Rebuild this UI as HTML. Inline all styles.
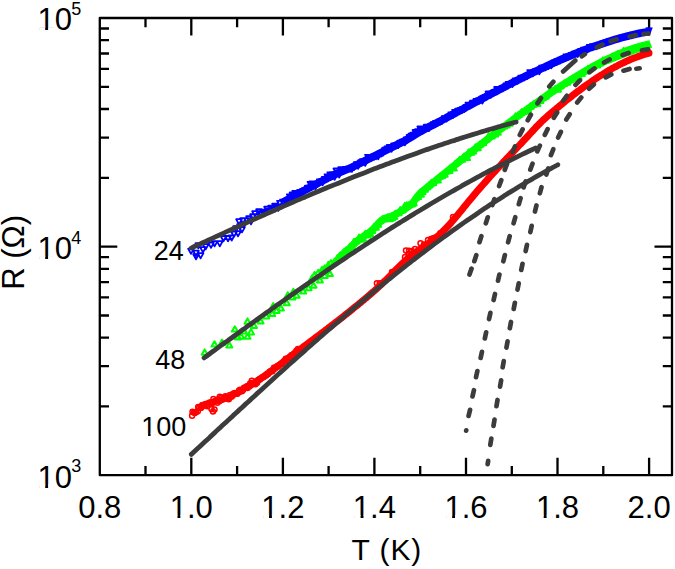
<!DOCTYPE html><html><head><meta charset="utf-8"><style>html,body{margin:0;padding:0;background:#fff;}svg{display:block;}text{font-family:"Liberation Sans",sans-serif;fill:#000;}</style></head><body>
<svg width="675" height="569" viewBox="0 0 675 569">
<rect x="99.8" y="18.0" width="572.2" height="457.2" fill="none" stroke="#000" stroke-width="2.3" stroke-linejoin="round"/>
<path d="M145.5,475.2v-9.2M145.5,18.0v9.2M191.3,475.2v-17.5M191.3,18.0v17.5M237.1,475.2v-9.2M237.1,18.0v9.2M282.9,475.2v-17.5M282.9,18.0v17.5M328.6,475.2v-9.2M328.6,18.0v9.2M374.4,475.2v-17.5M374.4,18.0v17.5M420.2,475.2v-9.2M420.2,18.0v9.2M466.0,475.2v-17.5M466.0,18.0v17.5M511.8,475.2v-9.2M511.8,18.0v9.2M557.5,475.2v-17.5M557.5,18.0v17.5M603.3,475.2v-9.2M603.3,18.0v9.2M649.1,475.2v-17.5M649.1,18.0v17.5M99.8,406.4h9.2M672.0,406.4h-9.2M99.8,366.2h9.2M672.0,366.2h-9.2M99.8,337.6h9.2M672.0,337.6h-9.2M99.8,315.5h9.2M672.0,315.5h-9.2M99.8,297.4h9.2M672.0,297.4h-9.2M99.8,282.1h9.2M672.0,282.1h-9.2M99.8,268.8h9.2M672.0,268.8h-9.2M99.8,257.1h9.2M672.0,257.1h-9.2M99.8,246.7h17.5M672.0,246.7h-17.5M99.8,177.8h9.2M672.0,177.8h-9.2M99.8,137.6h9.2M672.0,137.6h-9.2M99.8,109.0h9.2M672.0,109.0h-9.2M99.8,86.9h9.2M672.0,86.9h-9.2M99.8,68.8h9.2M672.0,68.8h-9.2M99.8,53.5h9.2M672.0,53.5h-9.2M99.8,40.2h9.2M672.0,40.2h-9.2M99.8,28.5h9.2M672.0,28.5h-9.2" fill="none" stroke="#000" stroke-width="2.3"/>
<path d="M285.0,201.2 C285.5,200.9 287.0,200.0 288.0,199.5 C289.0,198.9 290.0,198.3 291.0,197.8 C292.0,197.2 293.0,196.7 294.0,196.1 C295.0,195.5 296.0,195.0 297.0,194.4 C298.0,193.9 299.0,193.3 300.0,192.8 C301.0,192.2 302.0,191.7 303.0,191.2 C304.0,190.6 305.0,190.1 306.0,189.5 C307.0,189.0 308.0,188.5 309.0,187.9 C310.0,187.4 311.0,186.9 312.0,186.3 C313.0,185.8 314.0,185.3 315.0,184.7 C316.0,184.2 317.0,183.7 318.0,183.2 C319.0,182.6 320.0,182.1 321.0,181.6 C322.0,181.1 323.0,180.5 324.0,180.0 C325.0,179.5 326.0,179.0 327.0,178.5 C328.0,178.0 329.0,177.4 330.0,176.9 C331.0,176.4 332.0,175.9 333.0,175.4 C334.0,174.9 335.0,174.4 336.0,173.9 C337.0,173.5 338.0,173.1 339.0,172.7 C340.0,172.3 341.0,171.9 342.0,171.5 C343.0,171.0 344.0,170.6 345.0,170.2 C346.0,169.8 347.0,169.4 348.0,169.0 C349.0,168.6 350.0,168.2 351.0,167.7 C352.0,167.2 353.0,166.7 354.0,166.2 C355.0,165.7 356.0,165.2 357.0,164.7 C358.0,164.2 359.0,163.7 360.0,163.2 C361.0,162.7 362.0,162.2 363.0,161.7 C364.0,161.2 365.0,160.7 366.0,160.2 C367.0,159.7 368.0,159.2 369.0,158.7 C370.0,158.2 371.0,157.7 372.0,157.2 C373.0,156.7 374.0,156.2 375.0,155.7 C376.0,155.2 377.0,154.7 378.0,154.2 C379.0,153.8 380.0,153.3 381.0,152.8 C382.0,152.3 383.0,151.8 384.0,151.3 C385.0,150.8 386.0,150.3 387.0,149.8 C388.0,149.3 389.0,148.8 390.0,148.3 C391.0,147.8 392.0,147.3 393.0,146.8 C394.0,146.3 395.0,145.8 396.0,145.3 C397.0,144.8 398.0,144.3 399.0,143.8 C400.0,143.3 401.0,142.8 402.0,142.3 C403.0,141.8 404.0,141.3 405.0,140.8 C406.0,140.2 407.0,139.6 408.0,139.0 C409.0,138.4 410.0,137.8 411.0,137.2 C412.0,136.5 413.0,135.9 414.0,135.3 C415.0,134.7 416.0,134.1 417.0,133.5 C418.0,132.9 419.0,132.3 420.0,131.7 C421.0,131.1 422.0,130.7 423.0,130.1 C424.0,129.6 425.0,129.1 426.0,128.6 C427.0,128.1 428.0,127.5 429.0,127.0 C430.0,126.5 431.0,126.0 432.0,125.4 C433.0,124.9 434.0,124.4 435.0,123.9 C436.0,123.3 437.0,122.8 438.0,122.3 C439.0,121.7 440.0,121.2 441.0,120.7 C442.0,120.2 443.0,119.6 444.0,119.1 C445.0,118.6 446.0,118.0 447.0,117.5 C448.0,117.0 449.0,116.4 450.0,115.9 C451.0,115.4 452.0,114.8 453.0,114.3 C454.0,113.8 455.0,113.2 456.0,112.7 C457.0,112.2 458.0,111.6 459.0,111.1 C460.0,110.5 461.0,110.0 462.0,109.5 C463.0,108.9 464.0,108.4 465.0,107.9 C466.0,107.3 467.0,106.8 468.0,106.3 C469.0,105.7 470.0,105.2 471.0,104.7 C472.0,104.1 473.0,103.6 474.0,103.0 C475.0,102.5 476.0,102.0 477.0,101.4 C478.0,100.9 479.0,100.4 480.0,99.8 C481.0,99.3 482.0,98.8 483.0,98.2 C484.0,97.7 485.0,97.2 486.0,96.7 C487.0,96.1 488.0,95.6 489.0,95.1 C490.0,94.5 491.0,94.0 492.0,93.5 C493.0,93.0 494.0,92.4 495.0,91.9 C496.0,91.4 497.0,90.9 498.0,90.3 C499.0,89.8 500.0,89.3 501.0,88.8 C502.0,88.2 503.0,87.7 504.0,87.2 C505.0,86.7 506.0,86.2 507.0,85.7 C508.0,85.1 509.0,84.6 510.0,84.1 C511.0,83.6 512.0,83.1 513.0,82.6 C514.0,82.1 515.0,81.6 516.0,81.0 C517.0,80.5 518.0,80.0 519.0,79.5 C520.0,79.0 521.0,78.5 522.0,78.0 C523.0,77.5 524.0,77.0 525.0,76.5 C526.0,76.0 527.0,75.5 528.0,75.1 C529.0,74.6 530.0,74.1 531.0,73.6 C532.0,73.1 533.0,72.6 534.0,72.1 C535.0,71.6 536.0,71.2 537.0,70.7 C538.0,70.2 539.0,69.7 540.0,69.2 C541.0,68.8 542.0,68.3 543.0,67.8 C544.0,67.4 545.0,66.9 546.0,66.4 C547.0,66.0 548.0,65.5 549.0,65.0 C550.0,64.6 551.0,64.1 552.0,63.7 C553.0,63.2 554.0,62.8 555.0,62.3 C556.0,61.9 557.0,61.4 558.0,61.0 C559.0,60.5 560.0,60.1 561.0,59.7 C562.0,59.2 563.0,58.8 564.0,58.4 C565.0,57.9 566.0,57.5 567.0,57.1 C568.0,56.7 569.0,56.2 570.0,55.8 C571.0,55.4 572.0,55.0 573.0,54.6 C574.0,54.2 575.0,53.8 576.0,53.3 C577.0,52.9 578.0,52.5 579.0,52.1 C580.0,51.8 581.0,51.4 582.0,51.0 C583.0,50.6 584.0,50.2 585.0,49.8 C586.0,49.4 587.0,49.0 588.0,48.7 C589.0,48.3 590.0,47.9 591.0,47.6 C592.0,47.2 593.0,46.8 594.0,46.5 C595.0,46.1 596.0,45.8 597.0,45.4 C598.0,45.1 599.0,44.7 600.0,44.4 C601.0,44.0 602.0,43.7 603.0,43.4 C604.0,43.0 605.0,42.7 606.0,42.4 C607.0,42.0 608.0,41.7 609.0,41.4 C610.0,41.1 611.0,40.8 612.0,40.5 C613.0,40.2 614.0,39.9 615.0,39.6 C616.0,39.3 617.0,39.0 618.0,38.7 C619.0,38.4 620.0,38.1 621.0,37.8 C622.0,37.6 623.0,37.3 624.0,37.0 C625.0,36.8 626.0,36.5 627.0,36.2 C628.0,36.0 629.0,35.7 630.0,35.5 C631.0,35.2 632.0,35.0 633.0,34.7 C634.0,34.5 635.0,34.3 636.0,34.1 C637.0,33.8 638.0,33.6 639.0,33.4 C640.0,33.2 641.0,33.0 642.0,32.8 C643.0,32.6 644.0,32.4 645.0,32.2 C646.0,32.0 647.3,31.7 648.0,31.6 C648.7,31.5 648.8,31.4 649.0,31.4" fill="none" stroke="#0000ff" stroke-width="7.8" stroke-linecap="butt" stroke-linejoin="round"/>
<path d="M645.5,27.2L652.8,27.6L649.6,35.7Z" fill="#0000ff"/>
<path d="M188.2,248.7L193.8,248.7L191.0,253.9ZM193.2,250.7L198.8,250.7L196.0,255.9ZM193.2,254.2L198.8,254.2L196.0,259.4ZM195.5,243.2L201.1,243.2L198.3,248.4ZM197.8,253.2L203.4,253.2L200.6,258.4ZM200.2,247.2L205.8,247.2L203.0,252.4ZM202.9,244.2L208.5,244.2L205.7,249.4ZM208.2,242.7L213.8,242.7L211.0,247.9ZM211.8,241.2L217.4,241.2L214.6,246.4ZM217.0,241.2L222.6,241.2L219.8,246.4ZM220.7,236.0L226.3,236.0L223.5,241.2ZM225.2,236.0L230.8,236.0L228.0,241.2ZM228.9,235.3L234.5,235.3L231.7,240.5ZM231.2,231.7L236.8,231.7L234.0,236.9ZM233.2,226.2L238.8,226.2L236.0,231.4ZM235.2,231.2L240.8,231.2L238.0,236.4ZM236.2,219.2L241.8,219.2L239.0,224.4ZM237.2,224.2L242.8,224.2L240.0,229.4ZM239.2,227.2L244.8,227.2L242.0,232.4ZM240.2,218.2L245.8,218.2L243.0,223.4ZM241.2,222.2L246.8,222.2L244.0,227.4ZM244.2,218.2L249.8,218.2L247.0,223.4ZM246.2,216.2L251.8,216.2L249.0,221.4ZM248.2,219.2L253.8,219.2L251.0,224.4ZM250.2,214.2L255.8,214.2L253.0,219.4ZM252.2,211.2L257.8,211.2L255.0,216.4ZM254.2,214.2L259.8,214.2L257.0,219.4ZM256.2,209.2L261.8,209.2L259.0,214.4ZM258.2,211.2L263.8,211.2L261.0,216.4ZM260.2,209.7L265.8,209.7L263.0,214.9ZM262.2,210.7L267.8,210.7L265.0,215.9ZM264.2,206.7L269.8,206.7L267.0,211.9ZM266.2,208.7L271.8,208.7L269.0,213.9ZM268.2,205.7L273.8,205.7L271.0,210.9ZM270.2,206.7L275.8,206.7L273.0,211.9ZM272.2,203.7L277.8,203.7L275.0,208.9ZM273.1,204.3L278.7,204.3L275.9,209.5ZM275.5,205.7L281.1,205.7L278.3,210.9ZM277.1,200.8L282.7,200.8L279.9,206.0ZM280.1,199.6L285.7,199.6L282.9,204.8ZM282.5,198.8L288.1,198.8L285.3,204.0ZM284.2,199.4L289.8,199.4L287.0,204.6ZM286.5,197.9L292.1,197.9L289.3,203.1ZM286.9,194.4L292.5,194.4L289.7,199.6ZM289.7,192.5L295.3,192.5L292.5,197.7ZM292.4,190.8L298.0,190.8L295.2,196.0ZM295.0,191.6L300.6,191.6L297.8,196.8ZM297.3,189.9L302.9,189.9L300.1,195.1ZM300.1,189.0L305.7,189.0L302.9,194.2ZM302.2,188.1L307.8,188.1L305.0,193.3ZM304.9,185.7L310.5,185.7L307.7,190.9ZM307.6,181.8L313.2,181.8L310.4,187.0ZM309.6,181.4L315.2,181.4L312.4,186.6ZM312.6,184.2L318.2,184.2L315.4,189.4ZM314.3,181.6L319.9,181.6L317.1,186.8ZM316.9,179.3L322.5,179.3L319.7,184.5ZM319.8,180.1L325.4,180.1L322.6,185.3ZM322.0,176.8L327.6,176.8L324.8,182.0ZM324.6,174.3L330.2,174.3L327.4,179.5ZM327.3,174.5L332.9,174.5L330.1,179.7ZM327.4,172.3L333.0,172.3L330.2,177.5ZM329.8,172.1L335.4,172.1L332.6,177.3ZM331.8,174.6L337.4,174.6L334.6,179.8ZM333.5,168.5L339.1,168.5L336.3,173.7ZM336.4,172.4L342.0,172.4L339.2,177.6ZM338.3,167.2L343.9,167.2L341.1,172.4ZM340.7,168.4L346.3,168.4L343.5,173.6ZM342.7,166.9L348.3,166.9L345.5,172.1ZM345.2,166.7L350.8,166.7L348.0,171.9ZM347.5,166.3L353.1,166.3L350.3,171.5ZM349.1,166.7L354.7,166.7L351.9,171.9ZM351.1,164.9L356.7,164.9L353.9,170.1ZM354.0,162.1L359.6,162.1L356.8,167.3ZM355.3,163.5L360.9,163.5L358.1,168.7ZM358.2,160.2L363.8,160.2L361.0,165.4ZM360.0,159.1L365.6,159.1L362.8,164.3ZM362.4,160.7L368.0,160.7L365.2,165.9ZM365.1,154.9L370.7,154.9L367.9,160.1ZM366.9,155.9L372.5,155.9L369.7,161.1ZM368.5,155.4L374.1,155.4L371.3,160.6ZM371.3,154.3L376.9,154.3L374.1,159.5ZM373.1,154.0L378.7,154.0L375.9,159.2ZM375.4,154.0L381.0,154.0L378.2,159.2ZM378.3,151.3L383.9,151.3L381.1,156.5ZM380.0,150.5L385.6,150.5L382.8,155.7ZM382.2,147.7L387.8,147.7L385.0,152.9ZM384.5,146.3L390.1,146.3L387.3,151.5ZM386.7,145.0L392.3,145.0L389.5,150.2ZM388.7,146.5L394.3,146.5L391.5,151.7ZM391.2,143.5L396.8,143.5L394.0,148.7ZM393.7,143.0L399.3,143.0L396.5,148.2ZM395.4,142.9L401.0,142.9L398.2,148.1ZM397.5,140.6L403.1,140.6L400.3,145.8ZM399.9,139.6L405.5,139.6L402.7,144.8ZM402.1,140.2L407.7,140.2L404.9,145.4ZM403.8,137.4L409.4,137.4L406.6,142.6ZM406.6,135.0L412.2,135.0L409.4,140.2ZM408.5,133.6L414.1,133.6L411.3,138.8ZM410.3,132.7L415.9,132.7L413.1,137.9ZM412.6,130.0L418.2,130.0L415.4,135.2ZM415.0,129.2L420.6,129.2L417.8,134.4ZM417.4,126.5L423.0,126.5L420.2,131.7ZM419.5,127.2L425.1,127.2L422.3,132.4ZM421.6,126.4L427.2,126.4L424.4,131.6ZM423.8,124.7L429.4,124.7L426.6,129.9ZM426.1,125.9L431.7,125.9L428.9,131.1ZM428.5,123.6L434.1,123.6L431.3,128.8ZM430.8,122.1L436.4,122.1L433.6,127.3ZM433.1,120.9L438.7,120.9L435.9,126.1ZM434.7,120.8L440.3,120.8L437.5,126.0ZM437.4,119.4L443.0,119.4L440.2,124.6ZM439.0,118.9L444.6,118.9L441.8,124.1ZM441.9,116.1L447.5,116.1L444.7,121.3ZM443.7,116.3L449.3,116.3L446.5,121.5ZM445.8,114.6L451.4,114.6L448.6,119.8ZM448.4,112.4L454.0,112.4L451.2,117.6ZM450.1,112.8L455.7,112.8L452.9,118.0ZM452.2,109.8L457.8,109.8L455.0,115.0ZM455.1,108.7L460.7,108.7L457.9,113.9ZM457.3,108.2L462.9,108.2L460.1,113.4ZM459.5,107.5L465.1,107.5L462.3,112.7ZM461.5,106.8L467.1,106.8L464.3,112.0ZM463.2,105.2L468.8,105.2L466.0,110.4ZM465.6,102.6L471.2,102.6L468.4,107.8ZM467.0,103.0L472.6,103.0L469.8,108.2ZM470.1,100.6L475.7,100.6L472.9,105.8ZM473.6,98.9L479.2,98.9L476.4,104.1ZM475.9,98.4L481.5,98.4L478.7,103.6ZM479.6,98.4L485.2,98.4L482.4,103.6ZM482.7,94.9L488.3,94.9L485.5,100.1ZM485.6,91.5L491.2,91.5L488.4,96.7ZM487.9,92.5L493.5,92.5L490.7,97.7ZM491.4,90.0L497.0,90.0L494.2,95.2ZM494.2,87.0L499.8,87.0L497.0,92.2ZM496.9,86.8L502.5,86.8L499.7,92.0ZM499.8,86.1L505.4,86.1L502.6,91.3ZM503.5,83.3L509.1,83.3L506.3,88.5ZM505.7,81.9L511.3,81.9L508.5,87.1ZM509.6,81.8L515.2,81.8L512.4,87.0ZM512.6,78.5L518.2,78.5L515.4,83.7ZM514.7,78.5L520.3,78.5L517.5,83.7ZM518.4,75.6L524.0,75.6L521.2,80.8ZM521.4,75.0L527.0,75.0L524.2,80.2ZM524.2,73.8L529.8,73.8L527.0,79.0ZM527.3,70.1L532.9,70.1L530.1,75.3ZM530.0,71.2L535.6,71.2L532.8,76.4ZM533.2,68.8L538.8,68.8L536.0,74.0ZM536.5,69.0L542.1,69.0L539.3,74.2ZM539.2,65.6L544.8,65.6L542.0,70.8ZM542.5,65.0L548.1,65.0L545.3,70.2ZM545.6,63.8L551.2,63.8L548.4,69.0ZM548.5,63.0L554.1,63.0L551.3,68.2ZM551.3,60.5L556.9,60.5L554.1,65.7ZM554.6,59.0L560.2,59.0L557.4,64.2ZM557.0,58.4L562.6,58.4L559.8,63.6ZM560.2,56.6L565.8,56.6L563.0,61.8ZM563.5,54.4L569.1,54.4L566.3,59.6ZM565.7,54.3L571.3,54.3L568.5,59.5ZM568.8,53.0L574.4,53.0L571.6,58.2ZM571.8,51.6L577.4,51.6L574.6,56.8ZM574.8,51.8L580.4,51.8L577.6,57.0ZM578.2,48.8L583.8,48.8L581.0,54.0ZM581.1,47.6L586.7,47.6L583.9,52.8ZM584.3,47.3L589.9,47.3L587.1,52.5ZM586.9,44.9L592.5,44.9L589.7,50.1ZM590.0,44.1L595.6,44.1L592.8,49.3ZM593.4,44.1L599.0,44.1L596.2,49.3ZM596.1,43.1L601.7,43.1L598.9,48.3Z" fill="none" stroke="#0000ff" stroke-width="1.8" stroke-linejoin="round"/>
<path d="M596.0,65.1 C596.5,64.9 598.0,64.2 599.0,63.7 C600.0,63.3 601.0,62.8 602.0,62.4 C603.0,62.0 604.0,61.5 605.0,61.1 C606.0,60.7 607.0,60.3 608.0,59.9 C609.0,59.5 610.0,59.1 611.0,58.7 C612.0,58.3 613.0,58.0 614.0,57.6 C615.0,57.2 616.0,56.8 617.0,56.4 C618.0,56.0 619.0,55.5 620.0,55.1 C621.0,54.7 622.0,54.3 623.0,53.9 C624.0,53.5 625.0,53.1 626.0,52.7 C627.0,52.3 628.0,52.0 629.0,51.6 C630.0,51.3 631.0,50.9 632.0,50.6 C633.0,50.2 634.0,49.9 635.0,49.6 C636.0,49.2 637.0,48.9 638.0,48.6 C639.0,48.3 640.0,48.0 641.0,47.8 C642.0,47.5 643.0,47.2 644.0,47.0 C645.0,46.7 646.5,46.3 647.0,46.2" fill="none" stroke="#00ff00" stroke-width="7.6" stroke-linecap="butt"/>
<path d="M340.0,256.7 C340.5,256.3 342.0,255.0 343.0,254.1 C344.0,253.3 345.0,252.4 346.0,251.5 C347.0,250.7 348.0,249.9 349.0,249.0 C350.0,248.1 351.0,247.1 352.0,246.1 C353.0,245.1 354.0,244.1 355.0,243.1 C356.0,242.2 357.0,241.2 358.0,240.4 C359.0,239.5 360.0,238.9 361.0,238.1 C362.0,237.4 363.0,236.7 364.0,236.0 C365.0,235.3 366.0,234.7 367.0,234.0 C368.0,233.3 369.0,232.6 370.0,231.8 C371.0,231.0 372.0,230.2 373.0,229.3 C374.0,228.4 375.0,227.6 376.0,226.5 C377.0,225.4 378.0,223.9 379.0,222.8 C380.0,221.7 381.0,220.7 382.0,220.0 C383.0,219.2 384.0,218.9 385.0,218.5 C386.0,218.1 387.0,217.8 388.0,217.5 C389.0,217.1 390.0,216.8 391.0,216.4 C392.0,216.0 393.0,215.5 394.0,215.1 C395.0,214.6 396.0,214.1 397.0,213.5 C398.0,213.0 399.0,212.5 400.0,211.9 C401.0,211.3 402.0,210.7 403.0,210.1 C404.0,209.5 405.0,208.9 406.0,208.2 C407.0,207.5 408.0,206.8 409.0,206.0 C410.0,205.3 411.0,204.8 412.0,203.8 C413.0,202.7 414.0,201.1 415.0,199.8 C416.0,198.5 417.0,197.0 418.0,195.8 C419.0,194.6 420.0,193.4 421.0,192.5 C422.0,191.5 423.0,190.9 424.0,190.1 C425.0,189.2 426.0,188.4 427.0,187.6 C428.0,186.8 429.0,186.0 430.0,185.2 C431.0,184.4 432.0,183.6 433.0,182.8 C434.0,182.0 435.0,181.2 436.0,180.4 C437.0,179.6 438.0,178.7 439.0,177.9 C440.0,177.1 441.0,176.3 442.0,175.5 C443.0,174.7 444.0,173.9 445.0,173.1 C446.0,172.3 447.0,171.5 448.0,170.7 C449.0,169.9 450.0,169.0 451.0,168.2 C452.0,167.4 453.0,166.6 454.0,165.8 C455.0,165.0 456.0,164.2 457.0,163.4 C458.0,162.6 459.0,161.8 460.0,161.0 C461.0,160.2 462.0,159.4 463.0,158.6 C464.0,157.8 465.0,157.0 466.0,156.2 C467.0,155.4 468.0,154.6 469.0,153.8 C470.0,153.0 471.0,152.2 472.0,151.4 C473.0,150.6 474.0,149.8 475.0,149.1 C476.0,148.3 477.0,147.5 478.0,146.7 C479.0,145.9 480.0,145.1 481.0,144.3 C482.0,143.5 483.0,142.8 484.0,142.0 C485.0,141.2 486.0,140.4 487.0,139.6 C488.0,138.9 489.0,138.1 490.0,137.3 C491.0,136.5 492.0,135.7 493.0,135.0 C494.0,134.2 495.0,133.4 496.0,132.7 C497.0,131.9 498.0,131.1 499.0,130.4 C500.0,129.6 501.0,128.8 502.0,128.1 C503.0,127.3 504.0,126.5 505.0,125.8 C506.0,125.0 507.0,124.3 508.0,123.5 C509.0,122.8 510.0,122.0 511.0,121.3 C512.0,120.5 513.0,119.8 514.0,119.0 C515.0,118.3 516.0,117.5 517.0,116.8 C518.0,116.1 519.0,115.3 520.0,114.6 C521.0,113.9 522.0,113.1 523.0,112.4 C524.0,111.7 525.0,110.9 526.0,110.2 C527.0,109.5 528.0,108.8 529.0,108.0 C530.0,107.3 531.0,106.6 532.0,105.9 C533.0,105.2 534.0,104.5 535.0,103.8 C536.0,103.1 537.0,102.4 538.0,101.7 C539.0,101.0 540.0,100.3 541.0,99.6 C542.0,98.9 543.0,98.2 544.0,97.5 C545.0,96.8 546.0,96.1 547.0,95.4 C548.0,94.7 549.0,94.1 550.0,93.4 C551.0,92.7 552.0,92.0 553.0,91.4 C554.0,90.7 555.0,90.0 556.0,89.4 C557.0,88.7 558.0,88.0 559.0,87.4 C560.0,86.7 561.0,86.1 562.0,85.4 C563.0,84.8 564.0,84.1 565.0,83.5 C566.0,82.9 567.0,82.2 568.0,81.6 C569.0,81.0 570.0,80.3 571.0,79.7 C572.0,79.1 573.0,78.5 574.0,77.9 C575.0,77.2 576.0,76.6 577.0,76.0 C578.0,75.4 579.0,74.8 580.0,74.2 C581.0,73.6 582.0,73.0 583.0,72.4 C584.0,71.8 585.0,71.3 586.0,70.7 C587.0,70.1 588.0,69.5 589.0,69.0 C590.0,68.4 591.0,67.8 592.0,67.3 C593.0,66.7 594.0,66.2 595.0,65.6 C596.0,65.1 597.0,64.5 598.0,64.0 C599.0,63.5 600.0,63.0 601.0,62.4 C602.0,61.9 603.0,61.4 604.0,60.9 C605.0,60.4 606.0,59.9 607.0,59.4 C608.0,58.9 609.0,58.5 610.0,58.0 C611.0,57.5 612.0,57.0 613.0,56.6 C614.0,56.1 615.0,55.7 616.0,55.2 C617.0,54.8 618.0,54.4 619.0,53.9 C620.0,53.5 621.0,53.1 622.0,52.7 C623.0,52.3 624.0,51.9 625.0,51.5 C626.0,51.1 627.0,50.7 628.0,50.4 C629.0,50.0 630.0,49.7 631.0,49.3 C632.0,49.0 633.0,48.6 634.0,48.3 C635.0,48.0 636.0,47.6 637.0,47.3 C638.0,47.0 639.0,46.7 640.0,46.4 C641.0,46.2 642.0,45.9 643.0,45.6 C644.0,45.3 645.0,45.1 646.0,44.9 C647.0,44.6 648.5,44.3 649.0,44.2" fill="none" stroke="#00ff00" stroke-width="7.4" stroke-linecap="butt" stroke-linejoin="round"/>
<path d="M645.8,48.5L652.2,47.8L649.0,39.2Z" fill="#00ff00"/>
<path d="M201.7,354.7L207.7,354.7L204.7,349.4ZM211.5,346.6L217.5,346.6L214.5,341.3ZM219.0,344.9L225.0,344.9L222.0,339.6ZM226.3,347.5L232.3,347.5L229.3,342.2ZM231.8,331.6L237.8,331.6L234.8,326.3ZM235.0,339.4L241.0,339.4L238.0,334.1ZM238.1,338.8L244.1,338.8L241.1,333.5ZM241.0,333.4L247.0,333.4L244.0,328.1ZM244.5,323.7L250.5,323.7L247.5,318.4ZM244.5,338.8L250.5,338.8L247.5,333.5ZM248.0,334.4L254.0,334.4L251.0,329.1ZM251.0,328.1L257.0,328.1L254.0,322.8ZM257.6,323.4L263.6,323.4L260.6,318.1ZM263.3,318.4L269.3,318.4L266.3,313.1ZM269.2,316.1L275.2,316.1L272.2,310.8ZM270.2,308.4L276.2,308.4L273.2,303.1ZM273.6,313.0L279.6,313.0L276.6,307.7ZM277.9,310.5L283.9,310.5L280.9,305.2ZM283.8,305.2L289.8,305.2L286.8,299.9ZM284.8,297.5L290.8,297.5L287.8,292.2ZM289.4,299.5L295.4,299.5L292.4,294.2ZM290.4,294.0L296.4,294.0L293.4,288.7ZM293.7,297.8L299.7,297.8L296.7,292.5ZM300.1,293.5L306.1,293.5L303.1,288.2ZM305.6,290.2L311.6,290.2L308.6,284.9ZM310.5,287.8L316.5,287.8L313.5,282.5ZM316.9,282.5L322.9,282.5L319.9,277.2ZM321.7,277.9L327.7,277.9L324.7,272.6ZM322.7,272.7L328.7,272.7L325.7,267.4ZM326.9,276.1L332.9,276.1L329.9,270.8ZM309.0,280.7L315.0,280.7L312.0,275.4ZM311.6,277.2L317.6,277.2L314.6,271.9ZM315.3,275.1L321.3,275.1L318.3,269.8ZM319.1,272.1L325.1,272.1L322.1,266.8ZM321.8,270.6L327.8,270.6L324.8,265.3ZM325.3,267.2L331.3,267.2L328.3,261.9ZM328.0,265.3L334.0,265.3L331.0,260.0ZM331.8,263.6L337.8,263.6L334.8,258.3ZM334.5,260.3L340.5,260.3L337.5,255.0ZM337.2,257.9L343.2,257.9L340.2,252.6ZM340.8,255.5L346.8,255.5L343.8,250.2ZM332.9,263.4L338.9,263.4L335.9,258.1ZM335.6,260.9L341.6,260.9L338.6,255.6ZM338.3,258.5L344.3,258.5L341.3,253.2ZM340.6,254.6L346.6,254.6L343.6,249.3ZM343.0,252.6L349.0,252.6L346.0,247.3ZM345.7,252.4L351.7,252.4L348.7,247.1ZM347.0,248.8L353.0,248.8L350.0,243.5ZM348.9,249.2L354.9,249.2L351.9,243.9ZM351.0,244.1L357.0,244.1L354.0,238.8ZM353.5,243.6L359.5,243.6L356.5,238.3ZM356.2,239.8L362.2,239.8L359.2,234.5ZM357.9,241.7L363.9,241.7L360.9,236.4ZM360.0,240.8L366.0,240.8L363.0,235.5ZM362.4,236.1L368.4,236.1L365.4,230.8ZM364.8,237.6L370.8,237.6L367.8,232.3ZM367.2,236.0L373.2,236.0L370.2,230.7ZM369.2,233.1L375.2,233.1L372.2,227.8ZM371.3,228.8L377.3,228.8L374.3,223.5ZM372.9,229.8L378.9,229.8L375.9,224.5ZM375.2,226.8L381.2,226.8L378.2,221.5ZM377.4,223.3L383.4,223.3L380.4,218.0ZM379.6,221.4L385.6,221.4L382.6,216.1ZM381.7,221.4L387.7,221.4L384.7,216.1ZM384.7,219.5L390.7,219.5L387.7,214.2ZM386.8,221.2L392.8,221.2L389.8,215.9ZM389.1,220.2L395.1,220.2L392.1,214.9ZM391.3,219.1L397.3,219.1L394.3,213.8ZM392.7,215.8L398.7,215.8L395.7,210.5ZM395.6,215.3L401.6,215.3L398.6,210.0ZM397.2,212.4L403.2,212.4L400.2,207.1ZM399.4,212.6L405.4,212.6L402.4,207.3ZM401.8,208.2L407.8,208.2L404.8,202.9ZM403.9,207.5L409.9,207.5L406.9,202.2ZM406.1,207.2L412.1,207.2L409.1,201.9ZM408.9,206.5L414.9,206.5L411.9,201.2ZM410.7,205.6L416.7,205.6L413.7,200.3ZM412.9,200.0L418.9,200.0L415.9,194.7ZM415.1,198.9L421.1,198.9L418.1,193.6ZM417.9,196.7L423.9,196.7L420.9,191.4ZM419.5,194.3L425.5,194.3L422.5,189.0ZM422.0,191.8L428.0,191.8L425.0,186.5ZM424.3,189.3L430.3,189.3L427.3,184.0ZM426.2,187.5L432.2,187.5L429.2,182.2ZM428.5,185.1L434.5,185.1L431.5,179.8ZM430.2,185.3L436.2,185.3L433.2,180.0ZM433.0,182.5L439.0,182.5L436.0,177.2ZM434.9,182.5L440.9,182.5L437.9,177.2ZM437.4,178.6L443.4,178.6L440.4,173.3ZM439.1,178.0L445.1,178.0L442.1,172.7ZM441.7,176.7L447.7,176.7L444.7,171.4ZM444.0,173.6L450.0,173.6L447.0,168.3ZM446.5,173.1L452.5,173.1L449.5,167.8ZM448.1,169.9L454.1,169.9L451.1,164.6ZM450.8,170.6L456.8,170.6L453.8,165.3ZM452.3,166.0L458.3,166.0L455.3,160.7ZM454.3,164.6L460.3,164.6L457.3,159.3ZM456.7,162.1L462.7,162.1L459.7,156.8ZM459.1,161.8L465.1,161.8L462.1,156.5ZM461.0,158.9L467.0,158.9L464.0,153.6ZM464.1,160.1L470.1,160.1L467.1,154.8ZM465.8,154.6L471.8,154.6L468.8,149.3ZM468.3,154.8L474.3,154.8L471.3,149.5ZM470.2,153.6L476.2,153.6L473.2,148.3ZM472.6,149.6L478.6,149.6L475.6,144.3ZM474.8,150.2L480.8,150.2L477.8,144.9ZM477.3,146.6L483.3,146.6L480.3,141.3ZM476.7,146.9L482.7,146.9L479.7,141.6ZM480.2,145.3L486.2,145.3L483.2,140.0ZM483.4,141.8L489.4,141.8L486.4,136.5ZM485.7,138.4L491.7,138.4L488.7,133.1ZM488.7,138.4L494.7,138.4L491.7,133.1ZM492.2,136.5L498.2,136.5L495.2,131.2ZM494.8,134.7L500.8,134.7L497.8,129.4ZM498.4,129.7L504.4,129.7L501.4,124.4ZM501.2,128.6L507.2,128.6L504.2,123.3ZM503.6,127.5L509.6,127.5L506.6,122.2ZM506.8,125.8L512.8,125.8L509.8,120.5ZM509.9,123.1L515.9,123.1L512.9,117.8ZM512.5,118.7L518.5,118.7L515.5,113.4ZM515.8,117.1L521.8,117.1L518.8,111.8ZM518.7,114.5L524.7,114.5L521.7,109.2ZM522.1,113.7L528.1,113.7L525.1,108.4ZM525.0,112.0L531.0,112.0L528.0,106.7ZM527.6,108.7L533.6,108.7L530.6,103.4ZM530.6,106.7L536.6,106.7L533.6,101.4ZM534.4,106.1L540.4,106.1L537.4,100.8ZM537.4,103.0L543.4,103.0L540.4,97.7ZM539.9,100.3L545.9,100.3L542.9,95.0ZM542.8,98.7L548.8,98.7L545.8,93.4ZM546.2,94.9L552.2,94.9L549.2,89.6ZM548.8,93.5L554.8,93.5L551.8,88.2ZM552.3,91.1L558.3,91.1L555.3,85.8ZM555.0,91.7L561.0,91.7L558.0,86.4ZM557.6,88.2L563.6,88.2L560.6,82.9ZM561.2,85.7L567.2,85.7L564.2,80.4ZM564.2,84.7L570.2,84.7L567.2,79.4ZM567.1,82.2L573.1,82.2L570.1,76.9ZM570.1,80.6L576.1,80.6L573.1,75.3ZM573.2,79.8L579.2,79.8L576.2,74.5ZM575.6,78.9L581.6,78.9L578.6,73.6ZM578.8,75.9L584.8,75.9L581.8,70.6ZM582.2,73.4L588.2,73.4L585.2,68.1ZM585.1,71.0L591.1,71.0L588.1,65.7ZM588.0,69.6L594.0,69.6L591.0,64.3ZM590.6,68.3L596.6,68.3L593.6,63.0ZM594.2,67.4L600.2,67.4L597.2,62.1ZM597.2,65.4L603.2,65.4L600.2,60.1ZM599.9,62.7L605.9,62.7L602.9,57.4ZM603.4,62.2L609.4,62.2L606.4,56.9ZM605.5,61.7L611.5,61.7L608.5,56.4ZM609.3,58.8L615.3,58.8L612.3,53.5ZM611.9,58.0L617.9,58.0L614.9,52.7ZM615.0,56.3L621.0,56.3L618.0,51.0ZM618.3,56.3L624.3,56.3L621.3,51.0ZM620.6,53.2L626.6,53.2L623.6,47.9ZM623.8,54.5L629.8,54.5L626.8,49.2ZM627.3,52.4L633.3,52.4L630.3,47.1ZM630.2,51.3L636.2,51.3L633.2,46.0ZM632.9,50.3L638.9,50.3L635.9,45.0ZM636.2,49.6L642.2,49.6L639.2,44.3Z" fill="none" stroke="#00ff00" stroke-width="2.0" stroke-linejoin="round"/>
<path d="M250.0,385.5 C250.5,385.2 252.0,384.3 253.0,383.6 C254.0,383.0 255.0,382.3 256.0,381.7 C257.0,381.0 258.0,380.4 259.0,379.7 C260.0,379.0 261.0,378.3 262.0,377.6 C263.0,376.9 264.0,376.2 265.0,375.5 C266.0,374.8 267.0,374.1 268.0,373.4 C269.0,372.6 270.0,371.9 271.0,371.2 C272.0,370.4 273.0,369.7 274.0,369.0 C275.0,368.2 276.0,367.5 277.0,366.7 C278.0,366.0 279.0,365.2 280.0,364.5 C281.0,363.7 282.0,363.0 283.0,362.2 C284.0,361.4 285.0,360.7 286.0,359.9 C287.0,359.2 288.0,358.4 289.0,357.7 C290.0,356.9 291.0,356.1 292.0,355.4 C293.0,354.6 294.0,353.9 295.0,353.1 C296.0,352.4 297.0,351.6 298.0,350.8 C299.0,350.1 300.0,349.3 301.0,348.6 C302.0,347.8 303.0,347.1 304.0,346.3 C305.0,345.6 306.0,344.8 307.0,344.1 C308.0,343.3 309.0,342.6 310.0,341.8 C311.0,341.1 312.0,340.3 313.0,339.6 C314.0,338.8 315.0,338.1 316.0,337.3 C317.0,336.6 318.0,335.8 319.0,335.1 C320.0,334.3 321.0,333.6 322.0,332.8 C323.0,332.1 324.0,331.3 325.0,330.6 C326.0,329.8 327.0,329.0 328.0,328.3 C329.0,327.5 330.0,326.8 331.0,326.0 C332.0,325.2 333.0,324.5 334.0,323.7 C335.0,322.9 336.0,322.1 337.0,321.4 C338.0,320.6 339.0,319.8 340.0,319.0 C341.0,318.3 342.0,317.5 343.0,316.7 C344.0,315.9 345.0,315.1 346.0,314.3 C347.0,313.5 348.0,312.8 349.0,312.0 C350.0,311.2 351.0,310.4 352.0,309.6 C353.0,308.7 354.0,307.9 355.0,307.1 C356.0,306.3 357.0,305.5 358.0,304.7 C359.0,303.9 360.0,303.0 361.0,302.2 C362.0,301.4 363.0,300.5 364.0,299.7 C365.0,298.9 366.0,298.0 367.0,297.2 C368.0,296.3 369.0,295.5 370.0,294.6 C371.0,293.7 372.0,292.8 373.0,292.0 C374.0,291.1 375.0,290.2 376.0,289.3 C377.0,288.4 378.0,287.5 379.0,286.5 C380.0,285.6 381.0,284.7 382.0,283.7 C383.0,282.8 384.0,281.8 385.0,280.9 C386.0,279.9 387.0,278.9 388.0,277.9 C389.0,276.9 390.0,275.9 391.0,274.9 C392.0,273.9 393.0,272.9 394.0,271.8 C395.0,270.8 396.0,269.8 397.0,268.7 C398.0,267.7 399.0,266.7 400.0,265.7 C401.0,264.7 402.0,263.7 403.0,262.8 C404.0,261.8 405.0,260.9 406.0,260.0 C407.0,259.1 408.0,258.3 409.0,257.5 C410.0,256.6 411.0,255.9 412.0,255.1 C413.0,254.3 414.0,253.6 415.0,252.8 C416.0,252.1 417.0,251.4 418.0,250.7 C419.0,249.9 420.0,249.2 421.0,248.5 C422.0,247.8 423.0,247.2 424.0,246.5 C425.0,245.8 426.0,245.1 427.0,244.3 C428.0,243.6 429.0,242.9 430.0,242.2 C431.0,241.5 432.0,240.7 433.0,239.9 C434.0,239.2 435.0,238.4 436.0,237.6 C437.0,236.7 438.0,235.9 439.0,235.0 C440.0,234.1 441.0,233.2 442.0,232.3 C443.0,231.3 444.0,230.3 445.0,229.3 C446.0,228.2 447.0,227.2 448.0,226.1 C449.0,225.0 450.0,223.9 451.0,222.8 C452.0,221.6 453.0,220.5 454.0,219.3 C455.0,218.1 456.0,216.9 457.0,215.7 C458.0,214.5 459.0,213.3 460.0,212.1 C461.0,210.8 462.0,209.6 463.0,208.4 C464.0,207.2 465.0,205.9 466.0,204.7 C467.0,203.5 468.0,202.2 469.0,201.0 C470.0,199.8 471.0,198.6 472.0,197.4 C473.0,196.2 474.0,195.0 475.0,193.8 C476.0,192.7 477.0,191.5 478.0,190.3 C479.0,189.2 480.0,188.0 481.0,186.9 C482.0,185.7 483.0,184.6 484.0,183.5 C485.0,182.3 486.0,181.2 487.0,180.1 C488.0,179.0 489.0,177.8 490.0,176.7 C491.0,175.6 492.0,174.5 493.0,173.4 C494.0,172.3 495.0,171.2 496.0,170.2 C497.0,169.1 498.0,168.0 499.0,166.9 C500.0,165.8 501.0,164.8 502.0,163.7 C503.0,162.6 504.0,161.5 505.0,160.5 C506.0,159.4 507.0,158.3 508.0,157.3 C509.0,156.2 510.0,155.2 511.0,154.1 C512.0,153.0 513.0,152.0 514.0,150.9 C515.0,149.9 516.0,148.8 517.0,147.7 C518.0,146.7 519.0,145.6 520.0,144.6 C521.0,143.5 522.0,142.4 523.0,141.3 C524.0,140.3 525.0,139.2 526.0,138.1 C527.0,137.0 528.0,136.0 529.0,134.9 C530.0,133.8 531.0,132.7 532.0,131.6 C533.0,130.5 534.0,129.5 535.0,128.4 C536.0,127.3 537.0,126.3 538.0,125.3 C539.0,124.2 540.0,123.2 541.0,122.2 C542.0,121.2 543.0,120.3 544.0,119.3 C545.0,118.4 546.0,117.5 547.0,116.6 C548.0,115.7 549.0,114.8 550.0,114.0 C551.0,113.1 552.0,112.2 553.0,111.4 C554.0,110.5 555.0,109.7 556.0,108.9 C557.0,108.0 558.0,107.2 559.0,106.4 C560.0,105.5 561.0,104.7 562.0,103.9 C563.0,103.1 564.0,102.3 565.0,101.5 C566.0,100.6 567.0,99.8 568.0,99.0 C569.0,98.2 570.0,97.5 571.0,96.7 C572.0,95.9 573.0,95.1 574.0,94.3 C575.0,93.6 576.0,92.8 577.0,92.0 C578.0,91.3 579.0,90.5 580.0,89.8 C581.0,89.0 582.0,88.3 583.0,87.6 C584.0,86.8 585.0,86.1 586.0,85.4 C587.0,84.7 588.0,84.0 589.0,83.3 C590.0,82.6 591.0,81.9 592.0,81.2 C593.0,80.5 594.0,79.8 595.0,79.2 C596.0,78.5 597.0,77.8 598.0,77.2 C599.0,76.5 600.0,75.9 601.0,75.3 C602.0,74.6 603.0,74.0 604.0,73.4 C605.0,72.8 606.0,72.2 607.0,71.6 C608.0,71.0 609.0,70.4 610.0,69.8 C611.0,69.3 612.0,68.7 613.0,68.1 C614.0,67.6 615.0,67.0 616.0,66.5 C617.0,66.0 618.0,65.4 619.0,64.9 C620.0,64.4 621.0,63.9 622.0,63.4 C623.0,62.9 624.0,62.5 625.0,62.0 C626.0,61.5 627.0,61.1 628.0,60.6 C629.0,60.2 630.0,59.7 631.0,59.3 C632.0,58.9 633.0,58.5 634.0,58.1 C635.0,57.7 636.0,57.3 637.0,57.0 C638.0,56.6 639.0,56.2 640.0,55.9 C641.0,55.5 642.0,55.2 643.0,54.9 C644.0,54.6 645.0,54.3 646.0,54.0 C647.0,53.7 648.5,53.3 649.0,53.1" fill="none" stroke="#ff0000" stroke-width="7.0" stroke-linecap="butt" stroke-linejoin="round"/>
<circle cx="649.0" cy="53.1" r="3.5" fill="#ff0000"/>
<g fill="none" stroke="#ff0000" stroke-width="1.5"><circle cx="211.5" cy="409.0" r="2.5"/><circle cx="213.0" cy="411.5" r="2.5"/><circle cx="214.5" cy="409.5" r="2.5"/><circle cx="376.9" cy="283.3" r="2.5"/><circle cx="379.7" cy="283.3" r="2.5"/><circle cx="392.0" cy="272.0" r="2.5"/><circle cx="405.0" cy="257.0" r="2.5"/><circle cx="406.0" cy="250.5" r="2.5"/><circle cx="409.0" cy="250.8" r="2.5"/><circle cx="412.0" cy="251.0" r="2.5"/><circle cx="408.5" cy="254.0" r="2.5"/><circle cx="415.0" cy="249.0" r="2.5"/><circle cx="420.5" cy="243.2" r="2.5"/><circle cx="424.0" cy="244.5" r="2.5"/><circle cx="427.5" cy="246.0" r="2.5"/><circle cx="428.0" cy="240.0" r="2.5"/><circle cx="431.0" cy="239.0" r="2.5"/><circle cx="433.1" cy="238.3" r="2.5"/><circle cx="435.5" cy="237.5" r="2.5"/><circle cx="438.0" cy="236.5" r="2.5"/><circle cx="440.5" cy="233.0" r="2.5"/><circle cx="453.0" cy="217.0" r="2.5"/><circle cx="192.1" cy="415.7" r="2.5"/><circle cx="192.5" cy="411.8" r="2.5"/><circle cx="193.8" cy="412.4" r="2.5"/><circle cx="194.8" cy="413.0" r="2.5"/><circle cx="195.9" cy="412.0" r="2.5"/><circle cx="196.0" cy="412.0" r="2.5"/><circle cx="197.8" cy="411.3" r="2.5"/><circle cx="198.2" cy="406.9" r="2.5"/><circle cx="199.3" cy="407.3" r="2.5"/><circle cx="200.6" cy="407.9" r="2.5"/><circle cx="201.4" cy="407.5" r="2.5"/><circle cx="201.9" cy="406.3" r="2.5"/><circle cx="202.3" cy="405.1" r="2.5"/><circle cx="204.0" cy="405.1" r="2.5"/><circle cx="204.6" cy="405.1" r="2.5"/><circle cx="205.5" cy="404.1" r="2.5"/><circle cx="205.9" cy="405.6" r="2.5"/><circle cx="207.3" cy="406.2" r="2.5"/><circle cx="208.3" cy="403.3" r="2.5"/><circle cx="209.6" cy="402.6" r="2.5"/><circle cx="210.3" cy="404.0" r="2.5"/><circle cx="211.0" cy="402.6" r="2.5"/><circle cx="211.5" cy="404.0" r="2.5"/><circle cx="212.3" cy="402.8" r="2.5"/><circle cx="213.4" cy="398.9" r="2.5"/><circle cx="214.9" cy="400.9" r="2.5"/><circle cx="215.8" cy="401.2" r="2.5"/><circle cx="216.4" cy="400.4" r="2.5"/><circle cx="217.4" cy="402.8" r="2.5"/><circle cx="217.9" cy="399.5" r="2.5"/><circle cx="219.4" cy="401.3" r="2.5"/><circle cx="219.8" cy="396.8" r="2.5"/><circle cx="220.4" cy="399.6" r="2.5"/><circle cx="221.2" cy="397.6" r="2.5"/><circle cx="222.3" cy="399.7" r="2.5"/><circle cx="223.5" cy="399.0" r="2.5"/><circle cx="224.3" cy="397.7" r="2.5"/><circle cx="225.4" cy="396.3" r="2.5"/><circle cx="226.5" cy="397.1" r="2.5"/><circle cx="227.0" cy="398.7" r="2.5"/><circle cx="228.2" cy="398.2" r="2.5"/><circle cx="228.8" cy="399.3" r="2.5"/><circle cx="229.9" cy="395.0" r="2.5"/><circle cx="230.4" cy="397.0" r="2.5"/><circle cx="231.9" cy="396.4" r="2.5"/><circle cx="232.1" cy="395.0" r="2.5"/><circle cx="233.1" cy="393.7" r="2.5"/><circle cx="234.0" cy="394.4" r="2.5"/><circle cx="234.7" cy="393.0" r="2.5"/><circle cx="235.7" cy="393.8" r="2.5"/><circle cx="236.6" cy="393.6" r="2.5"/><circle cx="237.4" cy="393.8" r="2.5"/><circle cx="239.0" cy="390.6" r="2.5"/><circle cx="239.3" cy="391.9" r="2.5"/><circle cx="240.1" cy="389.8" r="2.5"/><circle cx="242.0" cy="391.3" r="2.5"/><circle cx="242.4" cy="390.1" r="2.5"/><circle cx="243.0" cy="390.1" r="2.5"/><circle cx="243.8" cy="388.0" r="2.5"/><circle cx="244.7" cy="387.6" r="2.5"/><circle cx="246.3" cy="387.8" r="2.5"/><circle cx="246.9" cy="386.3" r="2.5"/><circle cx="247.5" cy="387.9" r="2.5"/><circle cx="248.5" cy="385.8" r="2.5"/><circle cx="249.4" cy="386.6" r="2.5"/><circle cx="250.1" cy="383.4" r="2.5"/><circle cx="251.5" cy="383.1" r="2.5"/><circle cx="251.8" cy="380.7" r="2.5"/><circle cx="252.9" cy="384.1" r="2.5"/><circle cx="253.6" cy="383.0" r="2.5"/><circle cx="255.4" cy="384.3" r="2.5"/><circle cx="255.6" cy="382.4" r="2.5"/><circle cx="257.1" cy="382.7" r="2.5"/><circle cx="258.1" cy="380.3" r="2.5"/><circle cx="258.4" cy="380.3" r="2.5"/><circle cx="259.6" cy="379.2" r="2.5"/><circle cx="259.8" cy="379.5" r="2.5"/><circle cx="262.3" cy="377.4" r="2.5"/><circle cx="263.8" cy="377.1" r="2.5"/><circle cx="266.2" cy="375.6" r="2.5"/><circle cx="268.2" cy="374.0" r="2.5"/><circle cx="270.2" cy="371.6" r="2.5"/><circle cx="272.4" cy="371.2" r="2.5"/><circle cx="273.9" cy="367.7" r="2.5"/><circle cx="276.3" cy="366.7" r="2.5"/><circle cx="278.0" cy="366.4" r="2.5"/><circle cx="280.2" cy="364.4" r="2.5"/><circle cx="282.1" cy="363.7" r="2.5"/><circle cx="284.0" cy="361.2" r="2.5"/><circle cx="285.7" cy="358.8" r="2.5"/><circle cx="288.0" cy="358.3" r="2.5"/><circle cx="290.3" cy="356.6" r="2.5"/><circle cx="291.7" cy="355.1" r="2.5"/><circle cx="294.3" cy="353.4" r="2.5"/><circle cx="296.4" cy="350.8" r="2.5"/><circle cx="297.9" cy="348.9" r="2.5"/><circle cx="299.8" cy="350.9" r="2.5"/></g>
<path d="M191.3,248.1 C192.3,247.6 195.3,246.2 197.3,245.3 C199.3,244.4 201.3,243.4 203.3,242.5 C205.3,241.6 207.3,240.6 209.3,239.7 C211.3,238.8 213.3,237.9 215.3,236.9 C217.3,236.0 219.3,235.1 221.3,234.2 C223.3,233.3 225.3,232.3 227.3,231.4 C229.3,230.5 231.3,229.6 233.3,228.7 C235.3,227.8 237.3,226.9 239.3,226.0 C241.3,225.0 243.3,224.1 245.3,223.2 C247.3,222.3 249.3,221.4 251.3,220.5 C253.3,219.6 255.3,218.7 257.3,217.8 C259.3,216.9 261.3,216.1 263.3,215.2 C265.3,214.3 267.3,213.4 269.3,212.5 C271.3,211.6 273.3,210.7 275.3,209.9 C277.3,209.0 279.3,208.1 281.3,207.2 C283.3,206.4 285.3,205.5 287.3,204.6 C289.3,203.7 291.3,202.9 293.3,202.0 C295.3,201.2 297.3,200.3 299.3,199.4 C301.3,198.6 303.3,197.7 305.3,196.9 C307.3,196.0 309.3,195.2 311.3,194.3 C313.3,193.5 315.3,192.7 317.3,191.8 C319.3,191.0 321.3,190.1 323.3,189.3 C325.3,188.5 327.3,187.6 329.3,186.8 C331.3,186.0 333.3,185.2 335.3,184.4 C337.3,183.5 339.3,182.7 341.3,181.9 C343.3,181.1 345.3,180.3 347.3,179.5 C349.3,178.7 351.3,177.9 353.3,177.1 C355.3,176.3 357.3,175.5 359.3,174.7 C361.3,173.9 363.3,173.1 365.3,172.4 C367.3,171.6 369.3,170.8 371.3,170.0 C373.3,169.2 375.3,168.5 377.3,167.7 C379.3,166.9 381.3,166.2 383.3,165.4 C385.3,164.7 387.3,163.9 389.3,163.2 C391.3,162.4 393.3,161.7 395.3,160.9 C397.3,160.2 399.3,159.5 401.3,158.7 C403.3,158.0 405.3,157.3 407.3,156.5 C409.3,155.8 411.3,155.1 413.3,154.4 C415.3,153.7 417.3,153.0 419.3,152.2 C421.3,151.5 423.3,150.8 425.3,150.1 C427.3,149.4 429.3,148.8 431.3,148.1 C433.3,147.4 435.3,146.7 437.3,146.0 C439.3,145.3 441.3,144.7 443.3,144.0 C445.3,143.3 447.3,142.7 449.3,142.0 C451.3,141.4 453.3,140.7 455.3,140.1 C457.3,139.4 459.3,138.8 461.3,138.1 C463.3,137.5 465.3,136.9 467.3,136.2 C469.3,135.6 471.3,135.0 473.3,134.4 C475.3,133.8 477.3,133.1 479.3,132.5 C481.3,131.9 483.3,131.3 485.3,130.7 C487.3,130.1 489.3,129.6 491.3,129.0 C493.3,128.4 495.3,127.8 497.3,127.2 C499.3,126.7 501.3,126.1 503.3,125.5 C505.3,125.0 507.3,124.4 509.3,123.9 C511.3,123.3 514.1,122.6 515.3,122.2 C516.4,121.9 516.1,122.0 516.2,122.0" fill="none" stroke="#3c3c3c" stroke-width="4.8" stroke-linecap="round"/>
<path d="M204.1,357.9 C205.1,357.2 208.1,355.0 210.1,353.5 C212.1,352.0 214.1,350.6 216.1,349.1 C218.1,347.7 220.1,346.2 222.1,344.7 C224.1,343.3 226.1,341.8 228.1,340.4 C230.1,338.9 232.1,337.5 234.1,336.0 C236.1,334.6 238.1,333.1 240.1,331.7 C242.1,330.2 244.1,328.8 246.1,327.3 C248.1,325.9 250.1,324.4 252.1,323.0 C254.1,321.6 256.1,320.1 258.1,318.7 C260.1,317.2 262.1,315.8 264.1,314.4 C266.1,313.0 268.1,311.5 270.1,310.1 C272.1,308.7 274.1,307.3 276.1,305.8 C278.1,304.4 280.1,303.0 282.1,301.6 C284.1,300.2 286.1,298.8 288.1,297.3 C290.1,295.9 292.1,294.5 294.1,293.1 C296.1,291.7 298.1,290.3 300.1,288.9 C302.1,287.5 304.1,286.1 306.1,284.8 C308.1,283.4 310.1,282.0 312.1,280.6 C314.1,279.2 316.1,277.8 318.1,276.5 C320.1,275.1 322.1,273.7 324.1,272.4 C326.1,271.0 328.1,269.6 330.1,268.3 C332.1,266.9 334.1,265.6 336.1,264.2 C338.1,262.8 340.1,261.5 342.1,260.2 C344.1,258.8 346.1,257.5 348.1,256.1 C350.1,254.8 352.1,253.5 354.1,252.2 C356.1,250.8 358.1,249.5 360.1,248.2 C362.1,246.9 364.1,245.6 366.1,244.3 C368.1,243.0 370.1,241.6 372.1,240.4 C374.1,239.1 376.1,237.8 378.1,236.5 C380.1,235.2 382.1,233.9 384.1,232.6 C386.1,231.4 388.1,230.1 390.1,228.8 C392.1,227.5 394.1,226.3 396.1,225.0 C398.1,223.8 400.1,222.5 402.1,221.3 C404.1,220.0 406.1,218.8 408.1,217.6 C410.1,216.3 412.1,215.1 414.1,213.9 C416.1,212.7 418.1,211.4 420.1,210.2 C422.1,209.0 424.1,207.8 426.1,206.6 C428.1,205.4 430.1,204.2 432.1,203.0 C434.1,201.9 436.1,200.7 438.1,199.5 C440.1,198.3 442.1,197.2 444.1,196.0 C446.1,194.8 448.1,193.7 450.1,192.5 C452.1,191.4 454.1,190.3 456.1,189.1 C458.1,188.0 460.1,186.9 462.1,185.7 C464.1,184.6 466.1,183.5 468.1,182.4 C470.1,181.3 472.1,180.2 474.1,179.1 C476.1,178.0 478.1,176.9 480.1,175.9 C482.1,174.8 484.1,173.7 486.1,172.7 C488.1,171.6 490.1,170.5 492.1,169.5 C494.1,168.4 496.1,167.4 498.1,166.4 C500.1,165.3 502.1,164.3 504.1,163.3 C506.1,162.3 508.1,161.3 510.1,160.3 C512.1,159.3 514.1,158.3 516.1,157.3 C518.1,156.3 520.1,155.3 522.1,154.4 C524.1,153.4 526.1,152.4 528.1,151.5 C530.1,150.5 532.9,149.2 534.1,148.7 C535.3,148.1 535.2,148.2 535.4,148.1" fill="none" stroke="#3c3c3c" stroke-width="4.8" stroke-linecap="round"/>
<path d="M191.3,454.4 C192.3,453.5 195.3,450.7 197.3,448.8 C199.3,447.0 201.3,445.1 203.3,443.2 C205.3,441.4 207.3,439.5 209.3,437.7 C211.3,435.8 213.3,433.9 215.3,432.1 C217.3,430.2 219.3,428.4 221.3,426.5 C223.3,424.7 225.3,422.8 227.3,421.0 C229.3,419.1 231.3,417.3 233.3,415.4 C235.3,413.6 237.3,411.7 239.3,409.9 C241.3,408.1 243.3,406.2 245.3,404.4 C247.3,402.6 249.3,400.7 251.3,398.9 C253.3,397.1 255.3,395.2 257.3,393.4 C259.3,391.6 261.3,389.8 263.3,387.9 C265.3,386.1 267.3,384.3 269.3,382.5 C271.3,380.7 273.3,378.9 275.3,377.0 C277.3,375.2 279.3,373.4 281.3,371.6 C283.3,369.8 285.3,368.0 287.3,366.2 C289.3,364.4 291.3,362.7 293.3,360.9 C295.3,359.1 297.3,357.3 299.3,355.5 C301.3,353.7 303.3,352.0 305.3,350.2 C307.3,348.4 309.3,346.7 311.3,344.9 C313.3,343.1 315.3,341.4 317.3,339.6 C319.3,337.9 321.3,336.1 323.3,334.4 C325.3,332.7 327.3,330.9 329.3,329.2 C331.3,327.5 333.3,325.7 335.3,324.0 C337.3,322.3 339.3,320.6 341.3,318.9 C343.3,317.2 345.3,315.4 347.3,313.7 C349.3,312.1 351.3,310.4 353.3,308.7 C355.3,307.0 357.3,305.3 359.3,303.6 C361.3,302.0 363.3,300.3 365.3,298.6 C367.3,297.0 369.3,295.3 371.3,293.7 C373.3,292.0 375.3,290.4 377.3,288.7 C379.3,287.1 381.3,285.5 383.3,283.8 C385.3,282.2 387.3,280.6 389.3,279.0 C391.3,277.4 393.3,275.8 395.3,274.2 C397.3,272.6 399.3,271.0 401.3,269.4 C403.3,267.8 405.3,266.3 407.3,264.7 C409.3,263.1 411.3,261.6 413.3,260.0 C415.3,258.5 417.3,257.0 419.3,255.4 C421.3,253.9 423.3,252.4 425.3,250.8 C427.3,249.3 429.3,247.8 431.3,246.3 C433.3,244.8 435.3,243.3 437.3,241.9 C439.3,240.4 441.3,238.9 443.3,237.4 C445.3,236.0 447.3,234.5 449.3,233.1 C451.3,231.6 453.3,230.2 455.3,228.8 C457.3,227.3 459.3,225.9 461.3,224.5 C463.3,223.1 465.3,221.7 467.3,220.3 C469.3,218.9 471.3,217.5 473.3,216.2 C475.3,214.8 477.3,213.5 479.3,212.1 C481.3,210.8 483.3,209.4 485.3,208.1 C487.3,206.8 489.3,205.4 491.3,204.1 C493.3,202.8 495.3,201.5 497.3,200.2 C499.3,199.0 501.3,197.7 503.3,196.4 C505.3,195.1 507.3,193.9 509.3,192.6 C511.3,191.4 513.3,190.2 515.3,189.0 C517.3,187.7 519.3,186.5 521.3,185.3 C523.3,184.1 525.3,182.9 527.3,181.8 C529.3,180.6 531.3,179.4 533.3,178.3 C535.3,177.1 537.3,176.0 539.3,174.9 C541.3,173.7 543.3,172.6 545.3,171.5 C547.3,170.4 549.3,169.3 551.3,168.3 C553.3,167.2 556.2,165.6 557.3,165.1 C558.4,164.5 557.7,164.8 557.8,164.8" fill="none" stroke="#3c3c3c" stroke-width="4.8" stroke-linecap="round"/>
<path d="M469.48,274.58L471.52,268.62M474.32,261.19L476.28,255.21M479.45,242.20L481.35,236.20M485.83,223.30L487.77,217.30M492.40,205.09L494.40,199.11M499.12,186.06L501.28,180.14M504.75,169.83L507.05,163.97M512.52,152.08L515.08,146.32M519.78,135.01L522.62,129.39M527.74,120.24L530.86,114.76M537.42,103.30L540.98,98.10M549.26,86.50L553.34,81.70M563.11,71.42L575.29,60.58M581.72,56.25L584.88,54.15M596.87,47.48L602.53,44.72M610.63,41.34L616.57,39.26M629.61,36.43L635.79,35.17M643.41,33.92L648.19,33.48" fill="none" stroke="#3c3c3c" stroke-width="4.7" stroke-linecap="round"/>
<path d="M466.16,430.65L466.24,430.35M468.55,415.96L470.05,409.84M472.49,396.37L473.91,390.23M476.01,377.17L477.39,371.03M480.63,357.98L481.97,351.82M484.84,338.48L486.16,332.32M489.03,319.08L490.37,312.92M493.62,300.08L494.98,293.92M497.99,280.67L499.41,274.53M503.35,261.26L504.85,255.14M508.11,242.25L509.69,236.15M513.55,223.33L515.25,217.27M518.79,204.21L520.61,198.19M523.61,187.39L525.59,181.41M530.30,169.65L532.50,163.75M537.34,151.39L539.86,145.61M544.77,134.81L547.63,129.19M553.86,117.79L557.14,112.41M563.09,100.81L566.91,95.79M575.49,84.94L579.91,80.46M589.51,72.23L594.49,68.37M604.06,62.55L609.54,59.45M622.62,55.01L628.58,52.99M641.98,50.23L648.22,49.37" fill="none" stroke="#3c3c3c" stroke-width="4.7" stroke-linecap="round"/>
<path d="M487.64,464.13L488.16,460.87M490.29,444.81L491.31,438.59M493.49,425.81L494.51,419.59M496.48,406.21L497.52,399.99M500.07,386.60L501.13,380.40M502.66,367.30L503.74,361.10M506.44,347.60L507.56,341.40M509.83,328.20L510.97,322.00M513.71,308.99L514.89,302.81M517.49,289.59L518.71,283.41M521.27,269.99L522.53,263.81M525.65,251.08L526.95,244.92M530.33,232.08L531.67,225.92M534.98,211.57L536.42,205.43M539.88,193.24L541.52,187.16M546.35,174.50L548.25,168.50M550.95,155.13L553.25,149.27M558.13,137.54L560.87,131.86M566.33,119.47L569.67,114.13M577.17,102.41L581.23,97.59M589.12,88.67L593.88,84.53M605.72,77.39L611.28,74.41M623.47,70.66L629.53,68.94M636.36,68.72L639.64,68.28" fill="none" stroke="#3c3c3c" stroke-width="4.7" stroke-linecap="round"/>
<text x="99.8" y="518.1" font-size="31" text-anchor="middle">0.8</text>
<text x="191.3" y="518.1" font-size="31" text-anchor="middle">1.0</text>
<text x="282.9" y="518.1" font-size="31" text-anchor="middle">1.2</text>
<text x="374.4" y="518.1" font-size="31" text-anchor="middle">1.4</text>
<text x="466.0" y="518.1" font-size="31" text-anchor="middle">1.6</text>
<text x="557.5" y="518.1" font-size="31" text-anchor="middle">1.8</text>
<text x="649.1" y="518.1" font-size="31" text-anchor="middle">2.0</text>
<text x="37.5" y="30.4" font-size="31">10<tspan dx="-0.8" dy="-15.5" font-size="18">5</tspan></text>
<text x="37.5" y="259.2" font-size="31">10<tspan dx="-0.8" dy="-15.5" font-size="18">4</tspan></text>
<text x="37.5" y="487.6" font-size="31">10<tspan dx="-0.8" dy="-15.5" font-size="18">3</tspan></text>
<text x="386.9" y="559.5" font-size="30" letter-spacing="0.9" text-anchor="middle">T (K)</text>
<text transform="translate(24,252.4) rotate(-90)" font-size="31" text-anchor="middle">R (&#937;)</text>
<text x="183.8" y="260.4" font-size="27" text-anchor="end">24</text>
<text x="185.2" y="369.3" font-size="27" text-anchor="end">48</text>
<text x="186.4" y="436.1" font-size="27" text-anchor="end">100</text>
<rect x="171.63" y="515.00" width="5.83" height="4.30" fill="#fff"/><rect x="180.37" y="515.00" width="5.83" height="4.30" fill="#fff"/><rect x="263.19" y="515.00" width="5.83" height="4.30" fill="#fff"/><rect x="271.93" y="515.00" width="5.83" height="4.30" fill="#fff"/><rect x="354.75" y="515.00" width="5.83" height="4.30" fill="#fff"/><rect x="363.49" y="515.00" width="5.83" height="4.30" fill="#fff"/><rect x="446.31" y="515.00" width="5.83" height="4.30" fill="#fff"/><rect x="455.05" y="515.00" width="5.83" height="4.30" fill="#fff"/><rect x="537.87" y="515.00" width="5.83" height="4.30" fill="#fff"/><rect x="546.61" y="515.00" width="5.83" height="4.30" fill="#fff"/><rect x="39.36" y="27.30" width="5.83" height="4.30" fill="#fff"/><rect x="48.10" y="27.30" width="5.83" height="4.30" fill="#fff"/><rect x="39.36" y="256.10" width="5.83" height="4.30" fill="#fff"/><rect x="48.10" y="256.10" width="5.83" height="4.30" fill="#fff"/><rect x="39.36" y="484.50" width="5.83" height="4.30" fill="#fff"/><rect x="48.10" y="484.50" width="5.83" height="4.30" fill="#fff"/><rect x="142.98" y="433.40" width="5.08" height="3.90" fill="#fff"/><rect x="150.60" y="433.40" width="5.08" height="3.90" fill="#fff"/>
</svg></body></html>
